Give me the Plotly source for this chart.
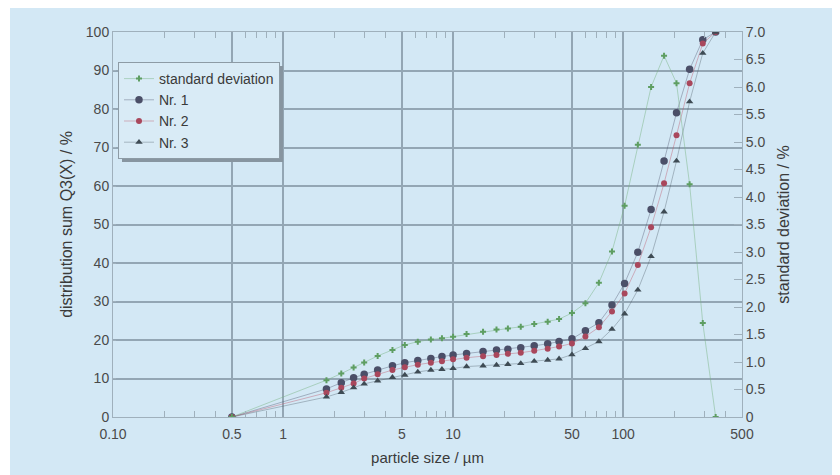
import plotly.graph_objects as go

# ---- data ----
sizes = [0.5, 1.8, 2.2, 2.6, 3.0, 3.6, 4.4, 5.2, 6.2, 7.4, 8.6, 10, 12, 15, 18, 21,
         25, 30, 36, 42, 50, 60, 72, 86, 102, 122, 146, 174, 206, 246, 294, 350]

std_dev = [0.0, 0.67, 0.79, 0.90, 0.99, 1.11, 1.22, 1.31, 1.37, 1.41, 1.43, 1.46, 1.51,
           1.55, 1.59, 1.61, 1.64, 1.69, 1.73, 1.78, 1.89, 2.07, 2.44, 3.01, 3.84, 4.95,
           6.00, 6.57, 6.07, 4.23, 1.71, 0.0]

nr1 = [0, 7.3, 8.9, 10.2, 11.1, 12.2, 13.3, 14.1, 14.7, 15.2, 15.7, 16.1, 16.5, 17.0,
       17.4, 17.6, 18.0, 18.5, 19.0, 19.6, 20.3, 22.4, 24.5, 29.1, 34.7, 42.8, 53.9,
       66.5, 79.0, 90.3, 98.0, 100]

nr2 = [0, 6.3, 7.6, 8.7, 10.0, 11.1, 12.2, 12.9, 13.6, 14.1, 14.5, 15.0, 15.4, 15.8,
       16.1, 16.4, 16.7, 17.2, 17.7, 18.3, 19.1, 20.9, 23.3, 27.4, 32.1, 39.5, 49.3,
       60.7, 73.2, 86.7, 97.0, 100]

nr3 = [0, 5.2, 6.4, 7.6, 8.6, 9.4, 10.3, 10.9, 11.7, 12.2, 12.4, 12.6, 13.1, 13.3,
       13.5, 13.7, 13.9, 14.5, 14.8, 15.1, 16.2, 17.8, 19.6, 22.8, 26.8, 33.0, 41.7,
       53.3, 66.5, 81.9, 94.5, 100]

x_tickvals = [0.1, 0.5, 1, 5, 10, 50, 100, 500]
x_ticktext = ["0.10", "0.5", "1", "5", "10", "50", "100", "500"]
x_minor = [0.2, 0.3, 0.4, 0.6, 0.7, 0.8, 0.9, 2, 3, 4, 6, 7, 8, 9,
           20, 30, 40, 60, 70, 80, 90, 200, 300, 400]
y2_tickvals = [0, 0.5, 1, 1.5, 2, 2.5, 3, 3.5, 4, 4.5, 5, 5.5, 6, 6.5, 7]
y2_ticktext = ["0", "0.5", "1.0", "1.5", "2.0", "2.5", "3.0", "3.5", "4.0", "4.5",
               "5.0", "5.5", "6.0", "6.5", "7.0"]

BG = "#d3e8f5"
GRID = "#93a6b4"
FRAME = "#9fb0bc"
TXT = "#4a4a4a"
TITLE = "#3a3a3a"
FONT = "Liberation Sans, Arial, sans-serif"

fig = go.Figure()

fig.add_trace(go.Scatter(
    x=sizes, y=std_dev, name="standard deviation", yaxis="y2", mode="lines+markers",
    line=dict(color="rgba(120,180,130,0.6)", width=0.8),
    marker=dict(symbol="cross", size=5, color="#5e9e62"), legendrank=1))
fig.add_trace(go.Scatter(
    x=sizes, y=nr1, name="Nr. 1", mode="lines+markers",
    line=dict(color="rgba(80,85,110,0.5)", width=0.8),
    marker=dict(symbol="circle", size=7.5, color="#4b4f68"), legendrank=2))
fig.add_trace(go.Scatter(
    x=sizes, y=nr2, name="Nr. 2", mode="lines+markers",
    line=dict(color="rgba(190,80,100,0.5)", width=0.8),
    marker=dict(symbol="circle", size=6, color="#a9475c"), legendrank=3))
fig.add_trace(go.Scatter(
    x=sizes, y=nr3, name="Nr. 3", mode="lines+markers",
    line=dict(color="rgba(70,85,95,0.45)", width=0.8),
    marker=dict(symbol="triangle-up", size=6.5, color="#3e4b54"), legendrank=4))

# the page body has an 8px margin: size the figure so the plot lands where the reference has it
OFF = 8
W, H = 840 - OFF, 475 - OFF
ML, MT = 105, 24
pw, ph = 629, 385
MR, MB = W - ML - pw, H - MT - ph


def px_x(p):
    return (p - OFF - ML) / pw


def px_y(p):
    return (H - MB - (p - OFF)) / ph


shapes = [
    # light-blue panel with thin white border at left
    dict(type="rect", xref="paper", yref="paper", x0=px_x(10), x1=px_x(850),
         y0=px_y(480), y1=px_y(0), fillcolor=BG, line=dict(width=0), layer="below"),
    # legend shadow
    dict(type="rect", xref="paper", yref="paper", x0=px_x(122), x1=px_x(283),
         y0=px_y(162), y1=px_y(66), fillcolor="#8795a0", line=dict(width=0), layer="above"),
]

fig.update_layout(
    width=W, height=H,
    margin=dict(l=ML, r=MR, t=MT, b=MB, autoexpand=False),
    paper_bgcolor="white", plot_bgcolor=BG,
    font=dict(family=FONT, size=14, color=TXT),
    showlegend=True,
    legend=dict(x=px_x(118), y=px_y(62), xanchor="left", yanchor="top",
                bgcolor="#d9ebf6", bordercolor="#8d9ba5", borderwidth=1,
                font=dict(size=14, color=TITLE), tracegroupgap=0, itemwidth=30),
    shapes=shapes,
    xaxis=dict(type="log", range=[-1, 2.69897], tickmode="array",
               tickvals=x_tickvals, ticktext=x_ticktext,
               showgrid=True, gridcolor=GRID, gridwidth=1.5,
               showline=True, linecolor=FRAME, linewidth=1, mirror="ticks",
               ticks="", zeroline=False, ticklabelstandoff=4,
               minor=dict(tickmode="array", tickvals=x_minor, ticks="inside",
                          ticklen=6, tickcolor=FRAME, showgrid=False),
               tickfont=dict(size=14, color=TXT),
               title=dict(text="particle size / µm", font=dict(size=15, color=TITLE),
                          standoff=11)),
    yaxis=dict(range=[0, 100], tickmode="array", tickvals=list(range(0, 101, 10)),
               showgrid=True, gridcolor=GRID, gridwidth=1.8,
               showline=True, linecolor=FRAME, linewidth=1, mirror=True,
               ticks="inside", ticklen=3, tickcolor=FRAME, zeroline=False,
               tickfont=dict(size=14, color=TXT),
               title=dict(text="distribution sum Q3(X) / %",
                          font=dict(size=16, color=TITLE), standoff=9)),
    yaxis2=dict(overlaying="y", side="right", range=[0, 7], tickmode="array",
                tickvals=y2_tickvals, ticktext=y2_ticktext, showgrid=False,
                showline=True, linecolor=FRAME, linewidth=1,
                ticks="inside", ticklen=8, tickcolor=FRAME, zeroline=False,
                tickfont=dict(size=14, color=TXT),
                title=dict(text="standard deviation / %",
                           font=dict(size=16, color=TITLE), standoff=13)),
)

fig.write_html("out.html")
